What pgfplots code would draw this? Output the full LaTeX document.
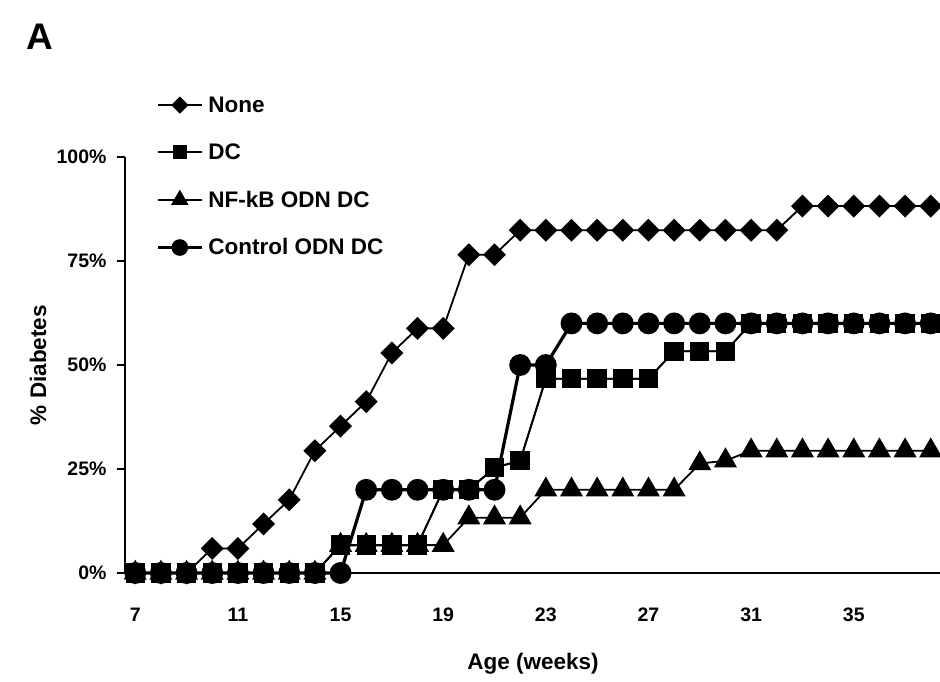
\documentclass[border=0pt]{standalone}
\usepackage{pgfplots}
\pgfplotsset{compat=1.18}
\usepackage{pgfplotstable}
\usepackage{fontspec}
\setmainfont{Liberation Sans}

\pgfplotstableread{
week none dc nfkb ctrl
7 0 0 0 0
8 0 0 0 0
9 0 0 0 0
10 5.9 0 0 0
11 5.9 0 0 0
12 11.8 0 0 0
13 17.6 0 0 0
14 29.4 0 0 0
15 35.3 6.7 6.7 0
16 41.2 6.7 6.7 20
17 52.9 6.7 6.7 20
18 58.8 6.7 6.7 20
19 58.8 20 6.7 20
20 76.5 20 13.3 20
21 76.5 25.3 13.3 20
22 82.4 27 13.3 50
23 82.4 46.7 20 50
24 82.4 46.7 20 60
25 82.4 46.7 20 60
26 82.4 46.7 20 60
27 82.4 46.7 20 60
28 82.4 53.3 20 60
29 82.4 53.3 26.3 60
30 82.4 53.3 27 60
31 82.4 60 29.4 60
32 82.4 60 29.4 60
33 88.2 60 29.4 60
34 88.2 60 29.4 60
35 88.2 60 29.4 60
36 88.2 60 29.4 60
37 88.2 60 29.4 60
38 88.2 60 29.4 60
}\datatable

\begin{document}
\begin{tikzpicture}
\useasboundingbox (-125pt,-109pt) rectangle (815pt,573pt);
\begin{axis}[
  at={(0,0)}, anchor=south west,
  scale only axis,
  width=816pt, height=416pt,
  xmin=6.6, xmax=38.4, ymin=0, ymax=100,
  clip=false,
  axis x line=bottom, axis y line=left,
  axis line style={-, line width=2.2pt},
  xtick={7,11,15,19,23,27,31,35},
  xticklabels={7,11,15,19,23,27,31,35},
  minor xtick={7.5,8.5,...,37.5},
  xtick style={draw=none},
  minor x tick style={line width=1.6pt, black},
  minor tick length=7pt,
  ytick={0,25,50,75,100},
  yticklabels={0\%,25\%,50\%,75\%,100\%},
  ytick style={line width=1.6pt, black},
  major tick length=8pt,
  tick align=outside,
  /pgf/number format/assume math mode=true,
  ticklabel style={font=\bfseries\fontsize{19.5}{19.5}\selectfont},
  xticklabel style={anchor=base},
  xticklabel shift=41pt,
  yticklabel shift=7pt,
  xlabel={Age (weeks)},
  ylabel={\% Diabetes},
  label style={font=\bfseries\fontsize{22.5}{22.5}\selectfont},
  xlabel style={at={(axis description cs:0.5,-0.218)}, anchor=center},
  ylabel style={at={(axis description cs:-0.1066,0.5)}, anchor=center},
  legend style={at={(axis description cs:0.038,1.148)}, anchor=north west,
    draw=none, fill=none, font=\bfseries\fontsize{22.5}{22.5}\selectfont,
    row sep=28pt, inner sep=0pt, column sep=4pt,
    nodes={inner sep=1pt}},
  legend cell align=left,
  legend image code/.code={\draw[#1, /tikz/every mark/.append style={scale=0.72}, mark repeat=2, mark phase=2] plot coordinates {(0pt,0pt) (22pt,0pt) (44pt,0pt)};},
]
\addplot[black, line width=1.8pt, mark=square*, mark size=7.2pt, mark options={rotate=45, solid}] table[x=week, y=none] {\datatable};
\addlegendentry{None}
\addplot[black, line width=1.8pt, mark=square*, mark size=8.8pt] table[x=week, y=dc] {\datatable};
\addlegendentry{DC}
\addplot[black, line width=1.8pt, mark=triangle*, mark size=11.5pt] table[x=week, y=nfkb] {\datatable};
\addlegendentry{NF-kB ODN DC}
\addplot[black, line width=3.2pt, mark=*, mark size=9.3pt] table[x=week, y=ctrl] {\datatable};
\addlegendentry{Control ODN DC}
\addplot[black, line width=1.8pt, mark=square*, mark size=8.8pt, forget plot] table[x=week, y=dc] {\datatable};
\node[font=\bfseries\fontsize{37}{37}\selectfont] at (axis description cs:-0.104,1.29) {A};
\end{axis}
\end{tikzpicture}
\end{document}
